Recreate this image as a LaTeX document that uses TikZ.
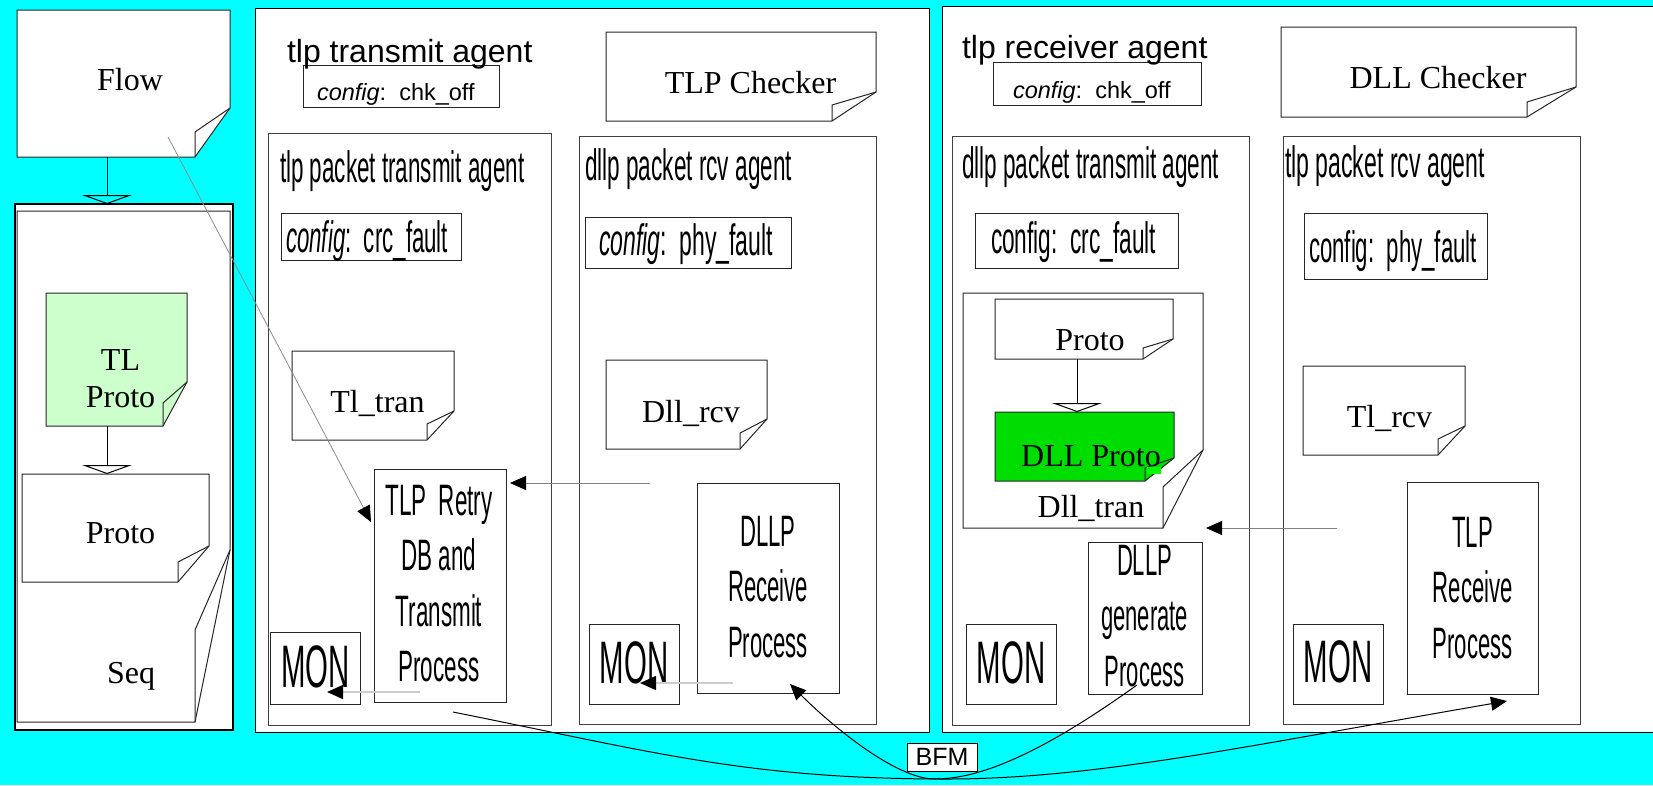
\documentclass[tikz,border=0pt]{standalone}
\usepackage{fontspec}
\setmainfont{Liberation Serif}
\newfontfamily\arialf{Liberation Sans}
\usepackage{graphicx}
\usetikzlibrary{arrows.meta,fit,calc}

% horizontally condensed text
\newcommand{\squeeze}[2]{\scalebox{#1}[1]{#2}}
% centred stack of lines, first baseline on the node's base
\newcommand{\stackl}[1]{\begin{tabular}[t]{@{}c@{}}#1\end{tabular}}

% folded-corner document: name, x1, y1, x2, y2, fold y on right edge, fold x on bottom, inner fold y, fill
\newcommand{\docshape}[9]{%
  \draw[docline, fill=#9] (#2,#3) -- (#4,#3) -- (#4,#6) -- (#7,#5) -- (#2,#5) -- cycle;
  \draw[docline] (#7,#5) -- (#7,#8) -- (#4,#6);
  \node[area, fit={(#2,#3) (#4,#5)}] (#1) {};
}

\definecolor{sky}{RGB}{0,255,255}
\definecolor{paleGreen}{HTML}{CCFFCC}
\definecolor{protoGreen}{HTML}{00DD00}
\definecolor{limeGreen}{HTML}{00FF00}

\tikzset{
  every node/.style={inner sep=0pt, outer sep=0pt},
  panel/.style={draw=black, fill=white, line width=1pt, inner sep=0pt},
  subpanel/.style={draw=black!75, line width=1pt, inner sep=0pt},
  box/.style={draw=black!85, fill=white, line width=1pt, inner sep=0pt},
  docline/.style={draw=black!85, line width=1pt, line join=miter},
  area/.style={inner sep=0pt},
  serif/.style={font=\fontsize{32}{37}\selectfont},
  head/.style={font=\arialf\fontsize{32}{36}\selectfont},
  cfg/.style={font=\arialf\fontsize{23.5}{26}\selectfont},
  bfmtext/.style={font=\arialf\fontsize{25}{28}\selectfont},
  cond/.style={font=\arialf\fontsize{44}{55.5}\selectfont},
  mon/.style={font=\arialf\fontsize{60}{66}\selectfont},
  tip/.style={-{Triangle[length=16pt,width=14pt,color=black]}},
  flowline/.style={tip, draw=black!45, line width=0.8pt},
  sigline/.style={tip, draw=black!50, line width=1pt},
  monline/.style={tip, draw=black!20, line width=1.6pt},
  bfmline/.style={tip, draw=black, line width=1pt},
  inherit/.style={draw=black, line width=1pt, -{Triangle[open,width=50pt,length=9pt]}},
}

\begin{document}
\begin{tikzpicture}[x=1pt, y=-1pt]
\useasboundingbox (0,0) rectangle (1653,785);
\clip (0,0) rectangle (1653,785);
\fill[sky] (0,0) rectangle (1653,785);

% ---------- sequence column ----------
\docshape{flow}{17}{10}{230}{157}{108}{195}{132}{white}
\node[serif, anchor=base] at (130,90) {Flow};

\node[panel, line width=2.4pt, fit={(15,204) (233,730)}] (seqframe) {};
\docshape{seq}{17}{211}{230}{722}{550}{195}{630}{white}
\node[serif, anchor=base] at (131,683) {Seq};

\docshape{tlproto}{46}{293}{187}{426}{382}{163}{403}{paleGreen}
\node[serif, anchor=base] at (120.5,370) {\stackl{TL\\Proto}};

\docshape{proto}{22}{474}{209}{582}{546}{178}{562}{white}
\node[serif, anchor=base] at (120.5,543) {Proto};

\coordinate (inhx) at (107,0);
\draw[inherit] (flow.south -| inhx) -- (seqframe.north -| inhx);
\draw[inherit] (tlproto.south -| inhx) -- (proto.north -| inhx);

% ---------- tlp transmit agent ----------
\node[panel, fit={(255,8) (929,732)}] (txagent) {};
\node[box, fit={(303,65) (499,107)}] (txcfg) {};
\node[head, anchor=base west] at (287,62) {tlp transmit agent};
\node[cfg, anchor=base west] at (317,100) {\textit{config}:\ \ chk\_off};

\docshape{tlpchk}{606}{32}{876}{121}{92}{832}{105}{white}
\node[serif, anchor=base] at (750.5,93) {TLP Checker};

% tlp packet transmit agent
\node[subpanel, fit={(268,133) (551,725)}] (tlptx) {};
\node[cond, anchor=base west] at (280,182) {\squeeze{0.51}{tlp packet transmit agent}};
\node[box, fit={(281,213) (461,260)}] (crcA) {};
\node[cond, anchor=base west] at (286,252) {\squeeze{0.506}{\textit{config}:\ \ crc\_fault}};
\docshape{tltran}{292}{351}{454}{440}{411}{427}{424}{white}
\node[serif, anchor=base] at (377.5,412) {Tl\_tran};
\node[box, fit={(374,469) (506,702)}] (retry) {};
\node[cond, anchor=base] at (439,515) {\squeeze{0.51}{\stackl{TLP\ \ Retry\\DB and\\Transmit\\Process}}};
\node[box, fit={(270,632) (360,704)}] (monA) {};
\node[mon, anchor=base] at (315.5,687) {\squeeze{0.49}{MON}};

% dllp packet rcv agent
\node[subpanel, fit={(579,136) (876,724)}] (dllprx) {};
\node[cond, anchor=base west] at (585,180) {\squeeze{0.513}{dllp packet rcv agent}};
\node[box, fit={(585,217) (791,268)}] (phyA) {};
\node[cond, anchor=base west] at (599,255) {\squeeze{0.523}{\textit{config}:\ \ phy\_fault}};
\docshape{dllrcv}{606}{360}{767}{449}{419}{740}{433}{white}
\node[serif, anchor=base] at (691,422) {Dll\_rcv};
\node[box, fit={(697,483) (839,693)}] (dllprecv) {};
\node[cond, anchor=base] at (768,546) {\squeeze{0.503}{\stackl{DLLP\\Receive\\Process}}};
\node[box, fit={(589,624) (679,704)}] (monB) {};
\node[mon, anchor=base] at (634,683) {\squeeze{0.49}{MON}};

% ---------- tlp receiver agent ----------
\node[panel, fit={(942,6) (1680,732)}] (rxagent) {};
\node[box, fit={(993,62) (1201,105)}] (rxcfg) {};
\node[head, anchor=base west] at (962,58) {tlp receiver agent};
\node[cfg, anchor=base west] at (1013,98) {\textit{config}:\ \ chk\_off};

\docshape{dllchk}{1281}{27}{1576}{117}{87}{1527}{102}{white}
\node[serif, anchor=base] at (1438,88) {DLL Checker};

% dllp packet transmit agent
\node[subpanel, fit={(952,136) (1249,725)}] (dllptx) {};
\node[cond, anchor=base west] at (962,178) {\squeeze{0.513}{dllp packet transmit agent}};
\node[box, fit={(975,213) (1178,268)}] (crcB) {};
\node[cond, anchor=base west] at (991,253) {\squeeze{0.515}{config:\ \ crc\_fault}};
\docshape{dlltran}{963}{293}{1203}{528}{450}{1163}{487}{white}
\docshape{iproto}{995}{299}{1173}{359}{339}{1143}{348}{white}
\node[serif, anchor=base] at (1090,350) {Proto};
\docshape{dllproto}{995}{412}{1174}{481}{458}{1145}{468}{protoGreen}
\fill[limeGreen] (1147,467) rectangle (1161,474);
\node[serif, anchor=base] at (1091,466) {DLL Proto};
\node[serif, anchor=base] at (1091,517) {Dll\_tran};
\coordinate (inhy) at (1077,0);
\draw[inherit] (iproto.south -| inhy) -- (dllproto.north -| inhy);
\node[box, fit={(1088,542) (1202,694)}] (dllpgen) {};
\node[cond, anchor=base] at (1144.5,575) {\squeeze{0.5}{\stackl{DLLP\\generate\\Process}}};
\node[box, fit={(966,624) (1056,704)}] (monC) {};
\node[mon, anchor=base] at (1011,683) {\squeeze{0.49}{MON}};

% tlp packet rcv agent
\node[subpanel, fit={(1283,136) (1580,724)}] (tlprx) {};
\node[cond, anchor=base west] at (1285,177) {\squeeze{0.524}{tlp packet rcv agent}};
\node[box, fit={(1304,213) (1487,279)}] (phyB) {};
\node[cond, anchor=base west] at (1309,262) {\squeeze{0.505}{config:\ \ phy\_fault}};
\docshape{tlrcv}{1303}{366}{1465}{455}{426}{1438}{439}{white}
\node[serif, anchor=base] at (1389.5,427) {Tl\_rcv};
\node[box, fit={(1407,482) (1538,694)}] (tlprecv) {};
\node[cond, anchor=base] at (1472.7,547) {\squeeze{0.503}{\stackl{TLP\\Receive\\Process}}};
\node[box, fit={(1293,624) (1383,704)}] (monD) {};
\node[mon, anchor=base] at (1338,682) {\squeeze{0.49}{MON}};

% ---------- connectors ----------
\coordinate (flowtail) at ($(flow.south east)+(-62,-20)$);
\draw[flowline] (flowtail) -- ($(retry.north west)+(-3,53)$);

\coordinate (rcvtail) at (650,483);
\draw[sigline] (rcvtail) -- ($(retry.north east)+(4,14)$);
\coordinate (tlprxtail) at (1337,528);
\draw[sigline] (tlprxtail) -- ($(dlltran.south east)+(3,0)$);

\draw[monline] ($(retry.south west)+(46,-10)$) -- ($(monA.south east)+(-33,-12)$);
\draw[monline] ($(dllprecv.south west)+(36,-10)$) -- ($(monB.south east)+(-39,-21)$);

% bus functional model links
\coordinate (bfmc) at (942,757);
\coordinate (lowA) at ($(bfmc)+(5,22)$);
\coordinate (lowB) at ($(bfmc)+(-7,22)$);
\draw[bfmline] ($(retry.south east)+(-53,10)$) .. controls +(200,40) and +(-200,0) .. (lowA)
  .. controls +(150,0) and +(-250,43) .. ($(tlprecv.south east)+(-31,7)$);
\draw[bfmline] ($(dllpgen.south west)+(49,-9)$) .. controls +(-77,55) and +(55,0) .. (lowB)
  .. controls +(-40,0) and +(40,40) .. ($(dllprecv.south west)+(93,-9)$);
\node[box, draw=black, minimum width=70pt, minimum height=28pt] (bfm) at (bfmc) {};
\node[bfmtext, anchor=base] at ($(bfm.south)+(0,-6)$) {BFM};
\end{tikzpicture}
\end{document}
